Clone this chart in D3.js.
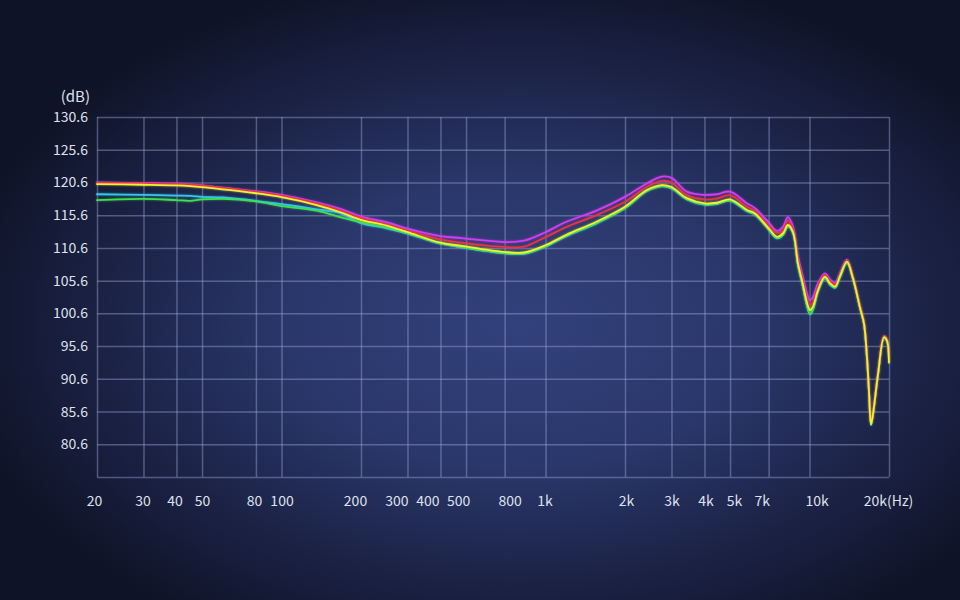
<!DOCTYPE html>
<html>
<head>
<meta charset="utf-8">
<script src="https://cdn.jsdelivr.net/npm/d3@7"></script>
<style>
html,body{margin:0;padding:0;background:#11152a;}
svg{display:block;}
text{font-family:"Noto Sans CJK SC","Noto Sans",sans-serif;}
</style>
</head>
<body>
<svg id="chart" width="960" height="600"></svg>
<script>
// ---------------- data ----------------
const freqs = [20,30,40,45,50,60,80,100,136,167,200,250,300,400,480,690,830,1000,1200,1560,2000,2420,2760,3000,3430,4000,4460,5000,5800,6200,6900,7530,7930,8280,8650,9040,9360,10040,10300,10770,11440,11950,12490,13040,13860,14610,15520,16080,16500,16790,17100,17400,18180,19150,19650,20000];

const yellowDb = [120.35,120.25,120.15,120.05,119.9,119.55,118.95,118.35,117.15,116.05,114.9,114.0,113.0,111.4,110.9,110.0,109.9,111.0,112.6,114.6,116.9,119.45,120.2,119.9,118.2,117.4,117.5,118.0,116.4,115.9,113.9,112.3,112.8,114.1,113.1,108.25,105.7,101.1,101.6,104.2,106.2,105.2,104.7,106.3,108.5,105.95,101.55,99.05,93.95,88.85,83.65,85.25,91.35,96.95,96.45,93.15];

const redDb = [120.55,120.45,120.35,120.25,120.1,119.75,119.15,118.55,117.4,116.35,115.15,114.2,113.25,111.9,111.4,110.75,110.8,112.25,113.8,115.6,117.65,119.95,120.85,120.6,118.7,118.0,118.15,118.65,116.9,116.3,114.3,112.9,113.3,114.75,113.5,108.75,106.2,101.85,102.3,104.7,106.5,105.5,105.0,106.5,108.7,106.15,101.75,99.25,94.15,89.05,83.85,85.45,91.55,97.15,96.65,93.35];

const magentaDb = [120.6,120.5,120.4,120.3,120.15,119.8,119.25,118.7,117.55,116.55,115.4,114.55,113.55,112.4,112.1,111.5,111.7,113.0,114.6,116.3,118.4,120.45,121.5,121.3,119.2,118.7,118.8,119.2,117.4,116.7,114.8,113.2,113.8,115.3,113.9,109.25,106.7,102.6,103.1,105.2,106.7,105.8,105.2,106.7,108.8,106.1,101.7,99.15,94.05,88.95,83.75,85.35,91.45,97.05,96.55,93.25];

const greenDb = [117.9,118.1,117.9,117.8,118.0,118.1,117.7,117.0,116.3,115.3,114.5,113.7,112.85,111.3,110.75,109.85,109.75,110.85,112.45,114.4,116.7,119.3,120.05,119.75,118.05,117.25,117.35,117.85,116.25,115.75,113.75,112.1,112.6,113.95,112.95,108.0,105.4,100.5,101.2,104.0,106.05,105.05,104.55,106.15,108.35,105.9,101.5,99.0,93.9,88.8,83.6,85.2,91.3,96.9,96.4,93.1];

const cyanDb = [118.8,118.7,118.6,118.55,118.4,118.3,117.8,117.3,116.5,115.9,114.4,113.6,112.8,111.25,110.7,109.8,109.7,110.8,112.4,114.35,116.65,119.25,120.0,119.7,118.0,117.2,117.3,117.8,116.2,115.7,113.7,112.05,112.55,113.9,112.9,107.95,105.35,100.45,101.15,103.95,106.0,105.0,104.5,106.1,108.3,105.85,101.45,98.95,93.85,88.75,83.55,85.15,91.25,96.85,96.35,93.05];

const gridFreqs = [20,30,40,50,80,100,200,300,400,500,700,1000,2000,3000,4000,5000,7000,10000,20000];
const xTickLabels = ["20","30","40","50","80","100","200","300","400","500","800","1k","2k","3k","4k","5k","7k","10k","20k(Hz)"];
const yTicks = [130.6,125.6,120.6,115.6,110.6,105.6,100.6,95.6,90.6,85.6,80.6];
const yGrid = [130.6,125.6,120.6,115.6,110.6,105.6,100.6,95.6,90.6,85.6,80.6,75.6];

// ---------------- layout ----------------
const W = 960, H = 600;
const plotL = 97, plotR = 889, plotT = 117, plotB = 477;
const labelShift = [-3,-1,-2,0,-2,0,-6,-11,-13,-8,5,-1,1,0,1,4,-7,7,-1];
const fontStack = '"Noto Sans CJK SC","Noto Sans",sans-serif';
const textColor = "#dfe1ec";

const svg = d3.select("#chart");
const defs = svg.append("defs");

const bg = defs.append("radialGradient").attr("id","bg")
  .attr("cx","54%").attr("cy","54%").attr("r","60%");
bg.append("stop").attr("offset","0%").attr("stop-color","#32417b");
bg.append("stop").attr("offset","40%").attr("stop-color","#2a376b");
bg.append("stop").attr("offset","72%").attr("stop-color","#1b2245");
bg.append("stop").attr("offset","100%").attr("stop-color","#0f1327");

const glow = defs.append("filter").attr("id","glow")
  .attr("x","-5%").attr("y","-5%").attr("width","110%").attr("height","110%");
glow.append("feGaussianBlur").attr("in","SourceGraphic").attr("stdDeviation",1.0).attr("result","b");
glow.append("feComponentTransfer").attr("in","b").attr("result","b2")
  .append("feFuncA").attr("type","linear").attr("slope",0.6);
const fm = glow.append("feMerge");
fm.append("feMergeNode").attr("in","b2");
fm.append("feMergeNode").attr("in","SourceGraphic");

svg.append("rect").attr("width",W).attr("height",H).attr("fill","url(#bg)");

const x = d3.scaleLog().domain([20,20000]).range([plotL,plotR]);
const y = d3.scaleLinear().domain([75.6,130.6]).range([plotB,plotT]);

const gridColor = "rgba(150,165,215,0.45)";

// vertical grid
const gx = svg.append("g").attr("transform",`translate(0,${plotB})`)
  .call(d3.axisBottom(x).tickValues(gridFreqs).tickSize(-(plotB-plotT)).tickFormat(""));
gx.select(".domain").remove();
gx.selectAll(".tick line").attr("stroke",gridColor).attr("stroke-width",1.5);

// horizontal grid
const gy = svg.append("g").attr("transform",`translate(${plotL},0)`)
  .call(d3.axisLeft(y).tickValues(yGrid).tickSize(-(plotR-plotL)).tickFormat(""));
gy.select(".domain").remove();
gy.selectAll(".tick line").attr("stroke",gridColor).attr("stroke-width",1.5);

// y labels
const yl = svg.append("g").attr("transform",`translate(${plotL},0)`)
  .call(d3.axisLeft(y).tickValues(yTicks).tickSize(0).tickPadding(9).tickFormat(d3.format(".1f")));
yl.select(".domain").remove();
yl.selectAll("text").attr("fill",textColor).attr("font-size",14).style("font-family",fontStack);

svg.append("text").attr("x",90).attr("y",102).attr("text-anchor","end")
  .attr("fill",textColor).attr("font-size",15).style("font-family",fontStack).text("(dB)");

// x labels
const xl = svg.append("g").attr("transform",`translate(0,${plotB})`)
  .call(d3.axisBottom(x).tickValues(gridFreqs).tickSize(0).tickPadding(0)
    .tickFormat((d,i)=>xTickLabels[i]));
xl.select(".domain").remove();
xl.selectAll("text").attr("fill",textColor).attr("font-size",14).style("font-family",fontStack)
  .attr("dy",null).attr("y",29)
  .attr("x",(d,i)=>labelShift[i]);

// curves
const line = d3.line().x((d)=>x(d[0])).y((d)=>y(d[1])).curve(d3.curveCatmullRom.alpha(0.5));
const series = [
  {vals: cyanDb, color:"#34c6ea"},
  {vals: greenDb, color:"#3ee24c"},
  {vals: magentaDb, color:"#d23cf2"},
  {vals: redDb, color:"#ea3048"},
  {vals: yellowDb, color:"#f2f22a"}
];
const curves = svg.append("g").attr("filter","url(#glow)");
series.forEach(s=>{
  curves.append("path")
    .datum(freqs.map((f,i)=>[f,s.vals[i]]))
    .attr("d",line).attr("fill","none")
    .attr("stroke",s.color).attr("stroke-width",1.8)
    .attr("stroke-linejoin","round").attr("stroke-linecap","round");
});
</script>
</body>
</html>
